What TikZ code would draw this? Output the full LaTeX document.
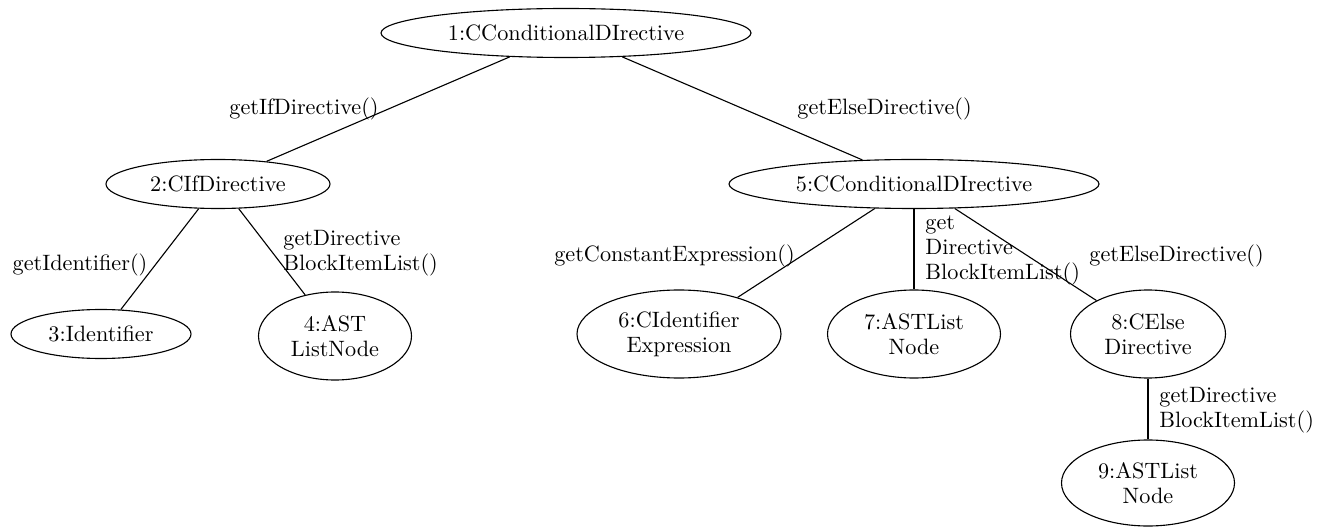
\documentclass[tikz,border=0pt]{standalone}
\usetikzlibrary{shapes.geometric}
\begin{document}
\begin{tikzpicture}[x=0.45pt,y=-0.45pt,
  every node/.style={font=\fontsize{10}{11.25}\selectfont},
  obj/.style={draw, ellipse, line width=0.5pt, inner sep=0pt, minimum width=#1*0.45pt},
  one/.style={minimum height=49*0.45pt},
  two/.style={minimum height=88*0.45pt, align=center},
  lbl/.style={inner sep=0pt, anchor=base},
  lbll/.style={inner sep=0pt, align=left, anchor=north west},
  link/.style={line width=0.5pt}]
\useasboundingbox (0,0) rectangle (1329,527);

% object nodes
\node[obj=370, one] (n1) at (566,33) {1:CConditionalDIrective};
\node[obj=224, one] (n2) at (218,184) {2:CIfDirective};
\node[obj=370, one] (n5) at (914,184) {5:CConditionalDIrective};
\node[obj=180, one] (n3) at (101,334) {3:Identifier};
\node[obj=153, two] (n4) at (335,336) {4:AST\\ListNode};
\node[obj=204, two] (n6) at (679,334) {6:CIdentifier\\Expression};
\node[obj=173, two] (n7) at (914,334) {7:ASTList\\Node};
\node[obj=155, two] (n8) at (1148,334) {8:CElse\\Directive};
\node[obj=173, minimum height=86*0.45pt, align=center] (n9) at (1148,483) {9:ASTList\\Node};

% connectors
\draw[link] (n1.203) -- (n2.25);
\draw[link] (n1.337) -- (n5.155);
\draw[link] (n2.232) -- (n3.51);
\draw[link] (n2.310) -- (n4.126);
\draw[link] (n5.212) -- (n6.32);
\draw[link] (n5) -- (n7);
\draw[link] (n5.329) -- (n8.147);
\draw[link] (n8) -- (n9);

% connector labels
\node[lbl] (l12) at (304,115) {getIfDirective()};
\node[lbl] (l15) at (884.5,115) {getElseDirective()};
\node[lbl] (l23) at (80,270) {getIdentifier()};
\node[lbll] (l24) at (283,229.8) {getDirective\\BlockItemList()};
\node[lbl] (l56) at (674.5,262) {getConstantExpression()};
\node[lbll] (l57) at (925,215.3) {get\\Directive\\BlockItemList()};
\node[lbl] (l58) at (1176.5,262) {getElseDirective()};
\node[lbll] (l89) at (1159,386.8) {getDirective\\BlockItemList()};
\end{tikzpicture}
\end{document}
